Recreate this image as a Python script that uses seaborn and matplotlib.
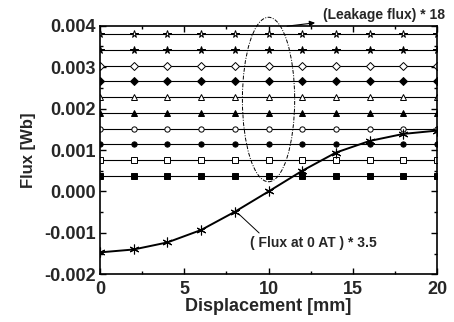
import numpy as np
import pandas as pd
import matplotlib
matplotlib.use("Agg")
import matplotlib.pyplot as plt
import seaborn as sns
from matplotlib.patches import Ellipse
from matplotlib.ticker import MultipleLocator, FormatStrFormatter

displacement = [0, 2, 4, 6, 8, 10, 12, 14, 16, 18, 20]
leakage_levels = [0.00038, 0.00076, 0.00114, 0.00152, 0.00190,
                  0.00228, 0.00266, 0.00304, 0.00342, 0.00380]
leakage_markers = ['s', 's', 'o', 'o', '^', '^', 'D', 'D', '*', '*']
leakage_filled = [True, False, True, False, True, False, True, False, True, False]
flux_0AT = [-0.00147, -0.00140, -0.00123, -0.00093, -0.00049, 0.0,
            0.00050, 0.00094, 0.00122, 0.00139, 0.00147]

sns.set_theme(style="ticks")
plt.rcParams['font.family'] = ['Liberation Sans', 'DejaVu Sans']

fig = plt.figure(figsize=(4.54, 3.22), dpi=100)
ax = fig.add_axes([0.220, 0.148, 0.743, 0.772])

for lvl, mk, filled in zip(leakage_levels, leakage_markers, leakage_filled):
    df = pd.DataFrame({'x': displacement, 'y': [lvl] * len(displacement)})
    ms = 5.5 if mk == '*' else 3.8
    sns.lineplot(data=df, x='x', y='y', ax=ax, color='black', lw=0.8,
                 marker=mk, markersize=ms, markeredgecolor='black',
                 markeredgewidth=0.7,
                 markerfacecolor='black' if filled else 'white')

df0 = pd.DataFrame({'x': displacement, 'y': flux_0AT})
sns.lineplot(data=df0, x='x', y='y', ax=ax, color='black', lw=1.4,
             marker=(6, 2, 0), markersize=7, markeredgecolor='black',
             markeredgewidth=0.8)

ell = Ellipse((10.0, 0.00222), 3.1, 0.00397, fill=False, ls=(0, (4, 1.5, 1, 1.5)),
              lw=0.7, color='black', clip_on=False)
ax.add_patch(ell)

ax.set_xlim(0, 20)
ax.set_ylim(-0.002, 0.004)
ax.xaxis.set_major_locator(MultipleLocator(5))
ax.xaxis.set_minor_locator(MultipleLocator(2.5))
ax.yaxis.set_major_locator(MultipleLocator(0.001))
ax.yaxis.set_minor_locator(MultipleLocator(0.0005))
ax.yaxis.set_major_formatter(FormatStrFormatter('%.3f'))
ax.tick_params(which='both', direction='in', top=True, right=True,
               color='black', width=1.0)
ax.tick_params(which='major', length=4, labelsize=13)
ax.tick_params(axis='x', which='major', pad=5)
ax.tick_params(axis='y', which='major', pad=3)
ax.tick_params(which='minor', length=2)
for lab in ax.get_xticklabels() + ax.get_yticklabels():
    lab.set_fontweight('bold')
for sp in ax.spines.values():
    sp.set_linewidth(1.2)
    sp.set_color('black')

ax.set_xlabel('Displacement [mm]', fontsize=13, fontweight='bold', labelpad=0)
ax.set_ylabel('Flux [Wb]', fontsize=12, fontweight='bold', labelpad=6)

ax.annotate('(Leakage flux) * 18', xy=(11.1, 0.00399), xytext=(13.2, 0.00427),
            fontsize=10, fontweight='bold', va='center', ha='left',
            arrowprops=dict(arrowstyle='<|-', color='black', lw=0.8,
                            mutation_scale=8, shrinkA=3, shrinkB=0),
            annotation_clip=False)
ax.annotate('( Flux at 0 AT ) * 3.5', xy=(8.2, -0.00053), xytext=(8.9, -0.00125),
            fontsize=10, fontweight='bold', va='center', ha='left',
            arrowprops=dict(arrowstyle='-', color='black', lw=0.7,
                            shrinkA=0, shrinkB=0, relpos=(0.1, 1.0)),
            annotation_clip=False)

fig.savefig('out.png', dpi=100)
